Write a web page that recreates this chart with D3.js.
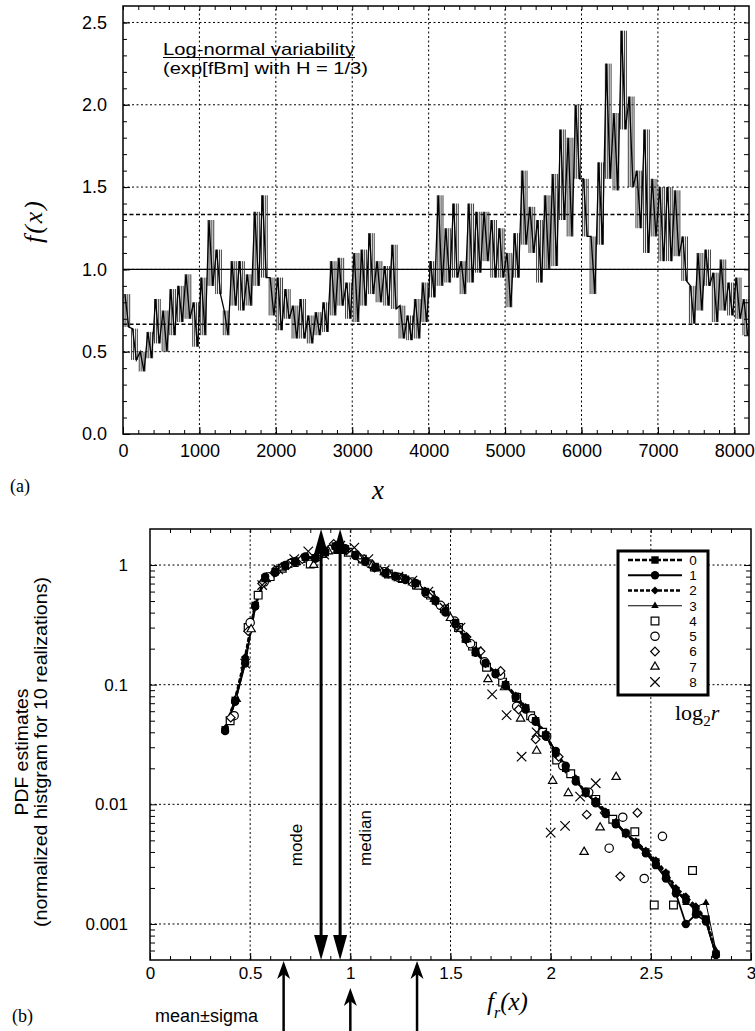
<!DOCTYPE html>
<html lang="en">
<head>
<meta charset="utf-8" />
<title>Log-normal variability and PDF estimates</title>
<script src="https://d3js.org/d3.v7.min.js"></script>
<style>
  body { margin: 0; background: #fff; }
  text { font-family: "Liberation Sans", Arial, sans-serif; fill: #000; }
  .serif { font-family: "Liberation Serif", "Times New Roman", serif; }
</style>
</head>
<body>
<div id="graph"></div>
<script>

// ---------- panel (a): f(x), envelope read per 100-wide bin ----------
var binStart = [0,100,200,300,400,500,600,700,800,900,1000,1100,1200,1300,1400,1500,1600,1700,1800,1900,
  2000,2100,2200,2300,2400,2500,2600,2700,2800,2900,3000,3100,3200,3300,3400,3500,3600,3700,3800,3900,
  4000,4100,4200,4300,4400,4500,4600,4700,4800,4900,5000,5100,5200,5300,5400,5500,5600,5700,5800,5900,
  6000,6100,6200,6300,6400,6500,6600,6700,6800,6900,7000,7100,7200,7300,7400,7500,7600,7700,7800,7900,
  8000,8100];
var traceLo = [0.65,0.45,0.38,0.46,0.55,0.50,0.60,0.68,0.70,0.53,0.60,0.90,0.85,0.60,0.78,0.75,0.78,0.90,0.95,0.72,
  0.63,0.70,0.58,0.58,0.55,0.60,0.62,0.72,0.78,0.70,0.68,0.78,0.85,0.80,0.78,0.76,0.58,0.57,0.58,0.68,
  0.83,0.90,0.92,0.95,0.85,0.92,0.98,1.05,0.95,0.95,0.77,0.95,1.15,1.10,0.92,1.00,1.02,1.30,1.20,1.55,
  1.20,0.85,1.15,1.55,1.48,1.85,1.50,1.25,1.10,1.20,1.05,1.05,1.08,0.93,0.67,0.75,0.90,0.68,0.75,0.72,
  0.70,0.60];
var traceHi = [0.85,0.64,0.50,0.62,0.82,0.75,0.88,0.90,0.97,0.80,0.95,1.30,1.12,0.75,1.05,1.05,0.97,1.35,1.45,0.95,
  0.95,0.88,0.78,0.82,0.72,0.74,0.80,1.05,1.07,0.92,1.10,1.12,1.22,1.05,1.02,1.15,0.78,0.72,0.82,0.92,
  1.05,1.45,1.25,1.40,1.05,1.40,1.35,1.35,1.30,1.25,1.10,1.22,1.60,1.38,1.30,1.45,1.58,1.85,1.80,2.00,
  1.55,1.20,1.65,2.25,1.95,2.45,2.05,1.60,1.85,1.55,1.50,1.50,1.48,1.20,0.90,1.10,1.12,0.98,1.06,0.92,
  0.95,0.82];
var xTicksA = [0,1000,2000,3000,4000,5000,6000,7000,8000];
var yTicksA = [0,0.5,1.0,1.5,2.0,2.5];
var levelsA = [0.667, 1.0, 1.333];   // mean-sigma, mean, mean+sigma

// ---------- panel (b): PDF estimates ----------
var frGrid = [0.375,0.425,0.475,0.525,0.575,0.625,0.675,0.725,0.775,0.825,0.875,0.925,0.975,1.025,1.075,1.125,
  1.175,1.225,1.275,1.325,1.375,1.425,1.475,1.525,1.575,1.625,1.675,1.725,1.775,1.825,1.875,1.925,1.975,
  2.025,2.075,2.125,2.175,2.225,2.275,2.325,2.375,2.425,2.475,2.525,2.575,2.625,2.675,2.725,2.775,2.825];
var pdf0 = [0.042,0.074,0.16,0.46,0.78,0.88,0.98,1.08,1.16,1.15,1.27,1.44,1.36,1.22,1.08,0.95,0.86,0.80,0.76,0.70,
  0.60,0.50,0.41,0.33,0.24,0.19,0.15,0.125,0.10,0.080,0.064,0.050,0.038,0.027,0.020,0.016,0.0125,0.0105,0.0085,
  0.0070,0.0057,0.0048,0.0040,0.0033,0.0026,0.0019,0.0016,0.0013,0.0011,0.00056];
var pdf1 = [0.041,0.072,0.15,0.45,0.80,0.86,1.00,1.06,1.18,1.13,1.30,1.42,1.38,1.20,1.06,0.96,0.85,0.81,0.75,0.71,
  0.59,0.51,0.40,0.32,0.25,0.185,0.152,0.122,0.098,0.079,0.062,0.049,0.037,0.028,0.021,0.0155,0.0128,0.0102,0.0083,
  0.0068,0.0058,0.0046,0.0039,0.0031,0.0024,0.0018,0.0010,0.0012,0.00105,0.00055];
var pdf2 = [0.043,0.075,0.17,0.47,0.77,0.89,0.97,1.09,1.15,1.16,1.26,1.46,1.35,1.23,1.09,0.94,0.87,0.79,0.77,0.69,
  0.61,0.49,0.42,0.33,0.235,0.195,0.148,0.127,0.102,0.081,0.065,0.051,0.039,0.026,0.0195,0.0165,0.0122,0.0108,0.0087,
  0.0071,0.0056,0.0049,0.0041,0.0034,0.0027,0.0020,0.0017,0.0014,0.0011,0.00058];
var pdf3 = [0.042,0.073,0.16,0.46,0.79,0.87,0.99,1.07,1.17,1.14,1.29,1.43,1.37,1.21,1.07,0.95,0.86,0.80,0.76,0.70,
  0.60,0.50,0.41,0.32,0.245,0.19,0.15,0.123,0.10,0.080,0.063,0.050,0.038,0.027,0.020,0.016,0.0126,0.0104,0.0086,
  0.0069,0.0057,0.0047,0.0040,0.0032,0.0025,0.0019,0.0015,0.0014,0.0015,0.00060];
// open symbols: [f_r, pdf] pairs
var open4 = [[0.40,0.05],[0.49,0.30],[0.54,0.56],[0.60,0.80],[0.66,0.94],[0.72,1.05],[0.80,1.02],[0.86,1.25],[0.93,1.40],
  [0.99,1.28],[1.06,1.12],[1.12,0.96],[1.19,0.84],[1.26,0.77],[1.33,0.68],[1.40,0.56],[1.47,0.43],[1.54,0.30],[1.61,0.21],
  [1.68,0.14],[1.76,0.105],[1.83,0.078],[1.90,0.055],[1.96,0.040],[2.03,0.0235],[2.10,0.018],[2.225,0.011],[2.31,0.0075],
  [2.42,0.0059],[2.517,0.00144],[2.613,0.00144],[2.708,0.0028]];
var open5 = [[0.42,0.055],[0.50,0.33],[0.57,0.72],[0.63,0.90],[0.70,1.03],[0.77,1.14],[0.84,1.18],[0.90,1.35],[0.97,1.35],
  [1.03,1.20],[1.10,1.02],[1.17,0.88],[1.24,0.79],[1.31,0.72],[1.38,0.58],[1.45,0.46],[1.52,0.34],[1.60,0.22],[1.67,0.155],
  [1.75,0.12],[1.83,0.066],[1.91,0.052],[1.98,0.037],[2.06,0.021],[2.19,0.0126],[2.292,0.0043],[2.36,0.0078],[2.467,0.0024],
  [2.558,0.0054]];
var open6 = [[0.403,0.053],[0.49,0.28],[0.56,0.70],[0.62,0.86],[0.69,1.00],[0.76,1.12],[0.83,1.17],[0.917,1.50],[0.98,1.32],
  [1.05,1.14],[1.12,0.95],[1.19,0.85],[1.26,0.78],[1.33,0.69],[1.40,0.57],[1.47,0.43],[1.53,0.31],[1.58,0.25],[1.65,0.19],
  [1.75,0.13],[1.84,0.062],[1.925,0.035],[2.04,0.025],[2.18,0.0082],[2.27,0.0085],[2.347,0.0025],[2.433,0.0085]];
var open7 = [[0.43,0.076],[0.505,0.29],[0.58,0.76],[0.655,0.95],[0.73,1.06],[0.817,1.0],[0.89,1.30],[0.96,1.38],[1.04,1.18],
  [1.11,1.00],[1.19,0.84],[1.26,0.76],[1.34,0.66],[1.42,0.52],[1.50,0.36],[1.58,0.24],[1.687,0.111],[1.77,0.095],[1.85,0.052],
  [1.93,0.028],[2.01,0.0157],[2.088,0.0124],[2.167,0.004],[2.247,0.0064],[2.327,0.0169]];
var open8 = [[0.475,0.15],[0.56,0.68],[0.64,0.92],[0.72,1.12],[0.79,1.30],[0.87,1.22],[0.95,1.45],[1.02,1.40],[1.09,1.12],
  [1.17,0.90],[1.24,0.80],[1.31,0.74],[1.39,0.60],[1.47,0.44],[1.55,0.30],[1.63,0.19],[1.708,0.083],[1.78,0.0556],
  [1.855,0.025],[1.93,0.04],[2.0,0.0058],[2.072,0.0066],[2.147,0.0116],[2.225,0.015]];
var legendKeys = ["0","1","2","3","4","5","6","7","8"];
var xTicksB = [0,0.5,1,1.5,2,2.5,3];
var yTicksB = [0.001,0.01,0.1,1];
var modeVal = 0.854, medianVal = 0.949;
var meanSigma = [0.667, 1.0, 1.333];

// ---------- svg ----------
var w = 755, h = 1031;
var svg = d3.select("#graph").append("svg").attr("width", w).attr("height", h);

function styleAxis(g, size) {
  g.select(".domain").remove();
  g.selectAll(".tick line").attr("stroke", "#000").attr("stroke-width", 1);
  g.selectAll(".tick text").attr("font-size", size)
    .attr("font-family", '"Liberation Sans", Arial, sans-serif').attr("fill", "#000");
  g.attr("font-size", null).attr("font-family", null);
}

// ================= panel (a) =================
var xA = d3.scaleLinear().domain([0, 8192]).range([123, 749]);
var yA = d3.scaleLinear().domain([0, 2.6]).range([434, 6]);
var gA = svg.append("g");

// dotted grid
gA.selectAll(".vg").data(xTicksA.slice(1)).join("line")
  .attr("x1", d => xA(d)).attr("x2", d => xA(d)).attr("y1", yA(0)).attr("y2", yA(2.6))
  .attr("stroke", "#000").attr("stroke-width", 1).attr("stroke-dasharray", "2,2.5");
gA.selectAll(".hg").data(yTicksA.slice(1)).join("line")
  .attr("x1", xA(0)).attr("x2", xA(8192)).attr("y1", d => yA(d)).attr("y2", d => yA(d))
  .attr("stroke", "#000").attr("stroke-width", 1).attr("stroke-dasharray", "2,2.5");

// mean and mean +/- sigma levels
gA.selectAll(".lv").data(levelsA).join("line")
  .attr("x1", xA(0)).attr("x2", xA(8192)).attr("y1", d => yA(d)).attr("y2", d => yA(d))
  .attr("stroke", "#000")
  .attr("stroke-width", d => d === 1.0 ? 1.3 : 1.6)
  .attr("stroke-dasharray", d => d === 1.0 ? null : "4,2.5");

// trace: dense vertical strokes over each bin envelope plus a zigzag through them
var hatch = [];
binStart.forEach(function (b, i) {
  [12.5, 37.5, 62.5, 87.5].forEach(function (o) { hatch.push({x: b + o, i: i}); });
});
gA.selectAll(".bar").data(hatch).join("line")
  .attr("x1", d => xA(d.x)).attr("x2", d => xA(d.x))
  .attr("y1", d => yA(traceLo[d.i])).attr("y2", d => yA(traceHi[d.i]))
  .attr("stroke", "#2a2a2a").attr("stroke-width", 0.9);
var tracePts = [];
binStart.forEach(function (b, i) {
  tracePts.push([b + 25, traceHi[i]]);
  tracePts.push([b + 75, traceLo[i]]);
});
var traceLine = d3.line().x(d => xA(d[0])).y(d => yA(d[1]));
gA.append("path").datum(tracePts).attr("d", traceLine)
  .attr("fill", "none").attr("stroke", "#000").attr("stroke-width", 1.3);

// ticks (inward) on all four sides
var axA = [
  [d3.axisBottom(xA).tickValues(xTicksA).tickFormat(d3.format("d")).tickSize(-7).tickPadding(10), 0, yA(0)],
  [d3.axisBottom(xA).tickValues(d3.range(200, 8192, 200)).tickSize(-4).tickFormat(""), 0, yA(0)],
  [d3.axisTop(xA).tickValues(d3.range(0, 8192, 200)).tickSize(-4).tickFormat(""), 0, yA(2.6)],
  [d3.axisLeft(yA).tickValues(yTicksA).tickFormat(d3.format(".1f")).tickSize(-7).tickPadding(16), xA(0), 0],
  [d3.axisLeft(yA).tickValues(d3.range(0.1, 2.6, 0.1)).tickSize(-4).tickFormat(""), xA(0), 0],
  [d3.axisRight(yA).tickValues(d3.range(0.1, 2.6, 0.1)).tickSize(-5).tickFormat(""), xA(8192), 0]
];
axA.forEach(function (a) {
  var g = gA.append("g").attr("transform", `translate(${a[1]},${a[2]})`).call(a[0]);
  styleAxis(g, 18);
});

gA.append("rect").attr("x", xA(0)).attr("y", yA(2.6))
  .attr("width", xA(8192) - xA(0)).attr("height", yA(0) - yA(2.6))
  .attr("fill", "none").attr("stroke", "#000").attr("stroke-width", 1.5);

// annotation
gA.append("text").attr("x", 163).attr("y", 55).attr("font-size", 17)
  .attr("textLength", 192).attr("lengthAdjust", "spacingAndGlyphs")
  .text("Log-normal variability");
gA.append("line").attr("x1", 163).attr("x2", 355).attr("y1", 57.5).attr("y2", 57.5)
  .attr("stroke", "#000").attr("stroke-width", 1);
gA.append("text").attr("x", 163).attr("y", 74).attr("font-size", 17)
  .attr("textLength", 205).attr("lengthAdjust", "spacingAndGlyphs")
  .text("(exp[fBm] with H = 1/3)");

// axis titles
gA.append("text").attr("class", "serif")
  .attr("transform", "translate(42,221) rotate(-90)")
  .attr("text-anchor", "middle").attr("font-size", 26).attr("font-style", "italic")
  .attr("letter-spacing", 2).text("f(x)");
gA.append("text").attr("class", "serif").attr("x", 378).attr("y", 499)
  .attr("text-anchor", "middle").attr("font-size", 27).attr("font-style", "italic").text("x");
svg.append("text").attr("class", "serif").attr("x", 10).attr("y", 492)
  .attr("font-size", 18).text("(a)");

// ================= panel (b) =================
var xB = d3.scaleLinear().domain([0, 3]).range([150, 751]);
var yB = d3.scaleLog().domain([5e-4, 2]).range([960, 529]);
var gB = svg.append("g");

gB.selectAll(".vg").data(xTicksB.slice(1, -1)).join("line")
  .attr("x1", d => xB(d)).attr("x2", d => xB(d)).attr("y1", yB(5e-4)).attr("y2", yB(2))
  .attr("stroke", "#000").attr("stroke-width", 1).attr("stroke-dasharray", "2,2.5");
gB.selectAll(".hg").data(yTicksB).join("line")
  .attr("x1", xB(0)).attr("x2", xB(3)).attr("y1", d => yB(d)).attr("y2", d => yB(d))
  .attr("stroke", "#000").attr("stroke-width", 1).attr("stroke-dasharray", "2,2.5");

// log minor ticks
var minorB = [];
[-4, -3, -2, -1, 0].forEach(function (k) {
  for (var m = 2; m <= 9; m++) {
    var v = m * Math.pow(10, k);
    if (v > 5e-4 && v < 2) minorB.push(v);
  }
});

var axB = [
  [d3.axisBottom(xB).tickValues(xTicksB).tickFormat(d3.format("~g")).tickSize(-7).tickPadding(7), 0, yB(5e-4)],
  [d3.axisBottom(xB).tickValues(d3.range(0.1, 3, 0.1)).tickSize(-4).tickFormat(""), 0, yB(5e-4)],
  [d3.axisTop(xB).tickValues(d3.range(0.1, 3, 0.1)).tickSize(-4).tickFormat(""), 0, yB(2)],
  [d3.axisLeft(yB).tickValues(yTicksB).tickFormat(d3.format("~g")).tickSize(-7).tickPadding(22), xB(0), 0],
  [d3.axisLeft(yB).tickValues(minorB).tickSize(-5).tickFormat(""), xB(0), 0],
  [d3.axisRight(yB).tickValues(yTicksB).tickSize(-7).tickFormat(""), xB(3), 0],
  [d3.axisRight(yB).tickValues(minorB).tickSize(-5).tickFormat(""), xB(3), 0]
];
axB.forEach(function (a) {
  var g = gB.append("g").attr("transform", `translate(${a[1]},${a[2]})`).call(a[0]);
  styleAxis(g, 17);
});

// series
var sym = {
  square: d3.symbolSquare,
  circle: d3.symbolCircle,
  diamond: d3.symbolDiamond2 || d3.symbolSquare,
  triangle: d3.symbolTriangle2 || d3.symbolTriangle,
  times: d3.symbolTimes || d3.symbolCross
};
var lineSeries = [
  {key: "0", vals: pdf0, dash: "5,2", width: 2.6, shape: sym.square, size: 55},
  {key: "1", vals: pdf1, dash: null, width: 1.8, shape: sym.circle, size: 55},
  {key: "2", vals: pdf2, dash: "4,2", width: 2.6, shape: sym.diamond, size: 42},
  {key: "3", vals: pdf3, dash: null, width: 1.0, shape: d3.symbolTriangle, size: 24}
];
var openSeries = [
  {key: "4", pts: open4, shape: sym.square, size: 60},
  {key: "5", pts: open5, shape: sym.circle, size: 55},
  {key: "6", pts: open6, shape: sym.diamond, size: 48},
  {key: "7", pts: open7, shape: sym.triangle, size: 50},
  {key: "8", pts: open8, shape: sym.times, size: 60}
];

var pdfLine = d3.line().defined(d => d[1] != null).x(d => xB(d[0])).y(d => yB(d[1]));
lineSeries.forEach(function (s) {
  var pts = frGrid.map((f, i) => [f, s.vals[i]]);
  gB.append("path").datum(pts).attr("d", pdfLine)
    .attr("fill", "none").attr("stroke", "#000")
    .attr("stroke-width", s.width).attr("stroke-dasharray", s.dash);
  s.pts = pts;
});
openSeries.forEach(function (s) {
  gB.selectAll(null).data(s.pts).join("path")
    .attr("transform", d => `translate(${xB(d[0])},${yB(d[1])})`)
    .attr("d", d3.symbol(s.shape, s.size))
    .attr("fill", s.key === "8" ? "none" : "#fff")
    .attr("stroke", "#000").attr("stroke-width", 1.2);
});
lineSeries.forEach(function (s) {
  gB.selectAll(null).data(s.pts).join("path")
    .attr("transform", d => `translate(${xB(d[0])},${yB(d[1])})`)
    .attr("d", d3.symbol(s.shape, s.size))
    .attr("fill", "#000");
});

// mode / median double arrows
[modeVal, medianVal].forEach(function (v) {
  var x = xB(v), yt = yB(2), yb = yB(5e-4);
  gB.append("line").attr("x1", x).attr("x2", x).attr("y1", yt + 10).attr("y2", yb - 10)
    .attr("stroke", "#000").attr("stroke-width", 3);
  gB.append("polygon").attr("points", `${x},${yt} ${x - 7},${yt + 25} ${x + 7},${yt + 25}`).attr("fill", "#000");
  gB.append("polygon").attr("points", `${x},${yb} ${x - 7},${yb - 25} ${x + 7},${yb - 25}`).attr("fill", "#000");
});
gB.append("text").attr("transform", `translate(${xB(modeVal) - 19},845) rotate(-90)`)
  .attr("text-anchor", "middle").attr("font-size", 17).text("mode");
gB.append("text").attr("transform", `translate(${xB(medianVal) + 31},838) rotate(-90)`)
  .attr("text-anchor", "middle").attr("font-size", 17).text("median");

// mean +/- sigma arrows below the axis
meanSigma.forEach(function (v) {
  var x = xB(v), tip = v === 1.0 ? 988 : 961;
  gB.append("line").attr("x1", x).attr("x2", x).attr("y1", tip + 8).attr("y2", h)
    .attr("stroke", "#000").attr("stroke-width", 2.5);
  gB.append("polygon")
    .attr("points", `${x},${tip} ${x - 6.5},${tip + 18} ${x},${tip + 13} ${x + 6.5},${tip + 18}`)
    .attr("fill", "#000");
});
gB.append("text").attr("x", 155).attr("y", 1022).attr("font-size", 18).text("mean\u00b1sigma");

// frame
gB.append("rect").attr("x", xB(0)).attr("y", yB(2))
  .attr("width", xB(3) - xB(0)).attr("height", yB(5e-4) - yB(2))
  .attr("fill", "none").attr("stroke", "#000").attr("stroke-width", 1.5);

// legend
var legend = gB.append("g");
legend.append("rect").attr("x", 618).attr("y", 551).attr("width", 90).attr("height", 144)
  .attr("fill", "#fff").attr("stroke", "#000").attr("stroke-width", 3);
var allSeries = lineSeries.concat(openSeries);
allSeries.forEach(function (s, i) {
  var y = 560 + 15.25 * i;
  if (s.vals) {
    legend.append("line").attr("x1", 628).attr("x2", 682).attr("y1", y).attr("y2", y)
      .attr("stroke", "#000").attr("stroke-width", s.width).attr("stroke-dasharray", s.dash);
  }
  legend.append("path").attr("transform", `translate(655,${y})`)
    .attr("d", d3.symbol(s.shape, s.size))
    .attr("fill", s.vals ? "#000" : (s.key === "8" ? "none" : "#fff"))
    .attr("stroke", s.vals ? "none" : "#000").attr("stroke-width", 1.2);
  legend.append("text").attr("x", 693).attr("y", y).attr("dy", "0.36em")
    .attr("text-anchor", "middle").attr("font-size", 13.5).text(legendKeys[i]);
});

var lg = gB.append("text").attr("class", "serif").attr("x", 675).attr("y", 720).attr("font-size", 22);
lg.append("tspan").text("log");
lg.append("tspan").attr("font-size", 15).attr("dy", 6).text("2");
lg.append("tspan").attr("font-style", "italic").attr("dy", -6).text("r");

// axis titles
var fx = gB.append("text").attr("class", "serif").attr("x", 487).attr("y", 1010)
  .attr("font-size", 25).attr("font-style", "italic");
fx.append("tspan").text("f");
fx.append("tspan").attr("font-size", 16).attr("dy", 8).text("r");
fx.append("tspan").attr("dy", -8).text("(x)");

gB.append("text").attr("transform", "translate(28,752) rotate(-90)")
  .attr("text-anchor", "middle").attr("font-size", 18)
  .attr("textLength", 127).attr("lengthAdjust", "spacingAndGlyphs").text("PDF estimates");
gB.append("text").attr("transform", "translate(47,752) rotate(-90)")
  .attr("text-anchor", "middle").attr("font-size", 18)
  .attr("textLength", 350).attr("lengthAdjust", "spacingAndGlyphs")
  .text("(normalized histgram for 10 realizations)");
svg.append("text").attr("class", "serif").attr("x", 12).attr("y", 1022)
  .attr("font-size", 18).text("(b)");

</script>
</body>
</html>
